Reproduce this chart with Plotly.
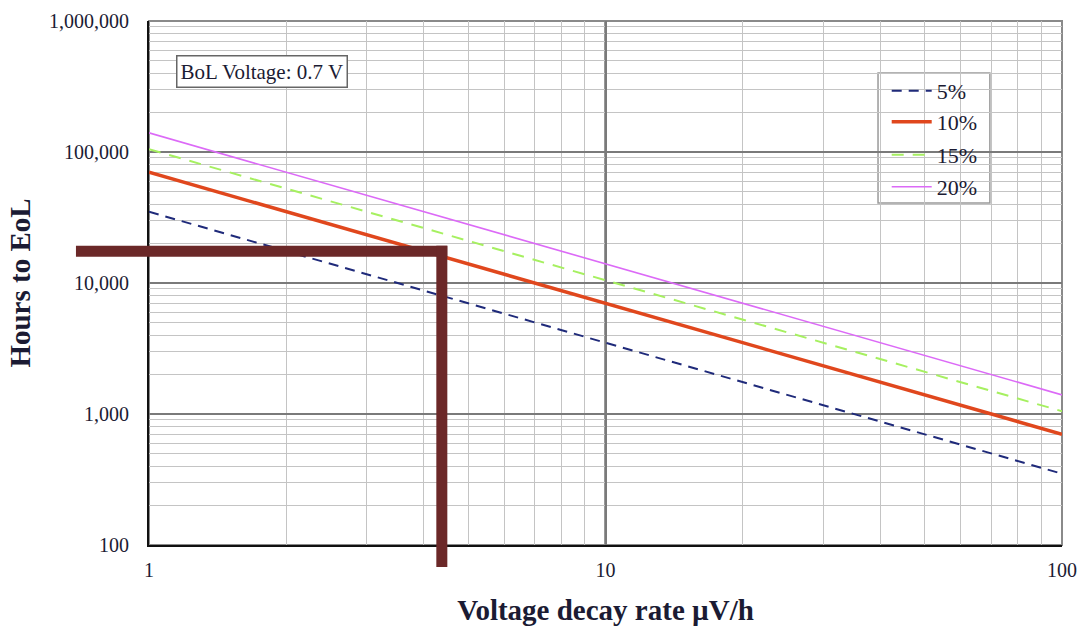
import math
import plotly.graph_objects as go

# ---- data ----
decay_rate = [1, 100]                     # µV/h
series_names = ["5%", "10%", "15%", "20%"]
hours_5 = [35000, 350]
hours_10 = [70000, 700]
hours_15 = [105000, 1050]
hours_20 = [140000, 1400]
y_tick_vals = [100, 1000, 10000, 100000, 1000000]
y_tick_text = ["100", "1,000", "10,000", "100,000", "1,000,000"]
x_tick_vals = [1, 10, 100]
x_tick_text = ["1", "10", "100"]
marker_rate = 4.38
marker_hours = 17500

FONT = "Liberation Serif"
TXT = "#1b1b33"

styles = [
    dict(color="#1f2a7a", width=2, dash="10px,7px"),
    dict(color="#e0471d", width=3.5, dash="solid"),
    dict(color="#a6f060", width=2, dash="12px,9px"),
    dict(color="#dc6af7", width=1.6, dash="solid"),
]
values = [hours_5, hours_10, hours_15, hours_20]
legend_ids = ["legend", "legend2", "legend3", "legend4"]
legend_y = [0.8664, 0.8073, 0.7443, 0.6832]

fig = go.Figure()
for name, vals, st, lg in zip(series_names, values, styles, legend_ids):
    fig.add_trace(go.Scatter(x=decay_rate, y=vals, mode="lines", name=name,
                             line=st, legend=lg, hoverinfo="skip"))

layout_legends = {}
for lg, ly in zip(legend_ids, legend_y):
    layout_legends[lg] = dict(x=0.808, xanchor="left", y=ly, yanchor="middle",
                              bgcolor="rgba(0,0,0,0)", borderwidth=0,
                              font=dict(family=FONT, size=22, color=TXT),
                              itemwidth=40, tracegroupgap=0)

fig.update_layout(
    width=1084, height=626,
    margin=dict(l=149, r=22, t=21, b=81),
    paper_bgcolor="white", plot_bgcolor="white",
    showlegend=True,
    font=dict(family=FONT, color=TXT),
    **layout_legends,
)

fig.update_xaxes(
    type="log", range=[0, 2], automargin=False,
    tickvals=x_tick_vals, ticktext=x_tick_text,
    tickfont=dict(family=FONT, size=20, color=TXT),
    ticks="", ticklabelstandoff=6,
    showgrid=True, gridcolor="#7a7a7a", gridwidth=1.5,
    minor=dict(showgrid=True, dtick="D1", gridcolor="#c4c4c4", gridwidth=1.2),
    showline=True, linecolor="#111", linewidth=2,
    zeroline=False,
    title=dict(text="<b>Voltage decay rate µV/h</b>",
               font=dict(family=FONT, size=29, color=TXT), standoff=20),
)
fig.update_yaxes(
    type="log", range=[2, 6], automargin=False,
    tickvals=y_tick_vals, ticktext=y_tick_text,
    tickfont=dict(family=FONT, size=20, color=TXT),
    ticks="", ticklabelstandoff=14,
    showgrid=True, gridcolor="#7a7a7a", gridwidth=1.5,
    minor=dict(showgrid=True, dtick="D1", gridcolor="#c4c4c4", gridwidth=1.2),
    showline=True, linecolor="#111", linewidth=2,
    zeroline=False,
    title=dict(text="<b>Hours to EoL</b>",
               font=dict(family=FONT, size=29, color=TXT), standoff=10),
)

# darker major lines at 10 (x) and 10,000 (y)
fig.add_shape(type="line", xref="x", yref="paper", x0=10, x1=10, y0=0, y1=1,
              line=dict(color="#333", width=2), layer="below")
fig.add_shape(type="line", xref="paper", yref="y", x0=0, x1=1, y0=10000, y1=10000,
              line=dict(color="#222", width=2), layer="below")
# top/right frame
fig.add_shape(type="rect", xref="paper", yref="paper", x0=0, x1=1, y0=0, y1=1,
              line=dict(color="#8a8a8a", width=2), layer="below")

# legend box
fig.add_shape(type="rect", xref="paper", yref="paper", x0=0.7985, x1=0.921,
              y0=0.6527, y1=0.9008, line=dict(color="#9a9a9a", width=1.5),
              fillcolor="white", layer="below")

# BoL annotation
fig.add_annotation(text="BoL Voltage: 0.7 V", xref="paper", yref="paper",
                   x=0.0296, y=0.935, xanchor="left", yanchor="top",
                   showarrow=False, bgcolor="white", bordercolor="#666",
                   borderwidth=1.5, borderpad=3,
                   font=dict(family=FONT, size=21, color=TXT))

# marker bars
bar_color = "#6b2828"
mx_paper = math.log10(marker_rate) / 2
my_paper = (math.log10(marker_hours) - 2) / 4
fig.add_shape(type="line", xref="paper", yref="y", x0=-0.08, x1=mx_paper + 0.006,
              y0=marker_hours, y1=marker_hours,
              line=dict(color=bar_color, width=11), layer="above")
fig.add_shape(type="line", xref="x", yref="paper", x0=marker_rate, x1=marker_rate,
              y0=-0.042, y1=my_paper + 0.0105,
              line=dict(color=bar_color, width=11), layer="above")

fig.write_html("out.html")
